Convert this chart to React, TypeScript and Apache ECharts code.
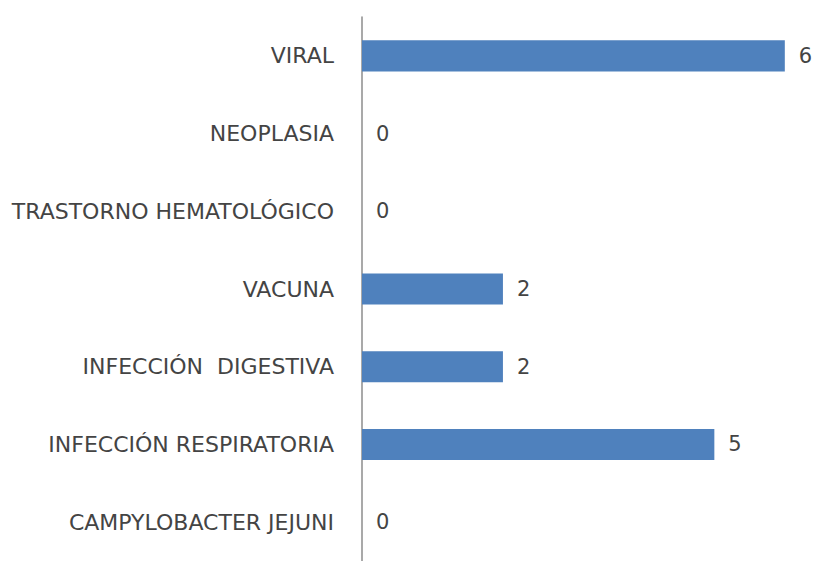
import React, { useEffect, useRef } from "react";
import * as echarts from "echarts";

const categories = [
  "CAMPYLOBACTER JEJUNI",
  "INFECCIÓN RESPIRATORIA",
  "INFECCIÓN  DIGESTIVA",
  "VACUNA",
  "TRASTORNO HEMATOLÓGICO",
  "NEOPLASIA",
  "VIRAL",
];
const values = [0, 5, 2, 2, 0, 0, 6];

export default function App() {
  const ref = useRef<HTMLDivElement>(null);
  useEffect(() => {
    const chart = echarts.init(ref.current!, null, { renderer: "svg" });
    chart.setOption({
      animation: false,
      backgroundColor: "#ffffff",
      grid: { left: 362, top: 17, right: 1, height: 544 },
      xAxis: {
        type: "value",
        min: 0,
        max: 6.4,
        show: false,
      },
      yAxis: {
        type: "category",
        data: categories,
        axisLine: { show: true, lineStyle: { color: "#8c8c8c", width: 1.5 } },
        axisTick: { show: false },
        axisLabel: {
          color: "#444444",
          fontFamily: "DejaVu Sans",
          fontSize: 22,
          margin: 28,
        },
      },
      series: [
        {
          type: "bar",
          data: values,
          barCategoryGap: "60%",
          itemStyle: { color: "#4F81BD" },
          label: {
            show: true,
            position: "right",
            distance: 14,
            color: "#444444",
            fontFamily: "DejaVu Sans",
            fontSize: 21,
          },
        },
      ],
    });
    return () => chart.dispose();
  }, []);
  return <div ref={ref} style={{ width: 814, height: 561, position: "absolute", left: 0, top: 0 }} />;
}
